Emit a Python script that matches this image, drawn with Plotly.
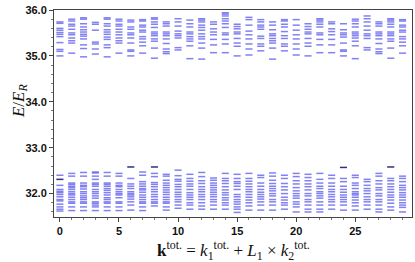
import plotly.graph_objects as go

k_values = list(range(30))

upper_levels = [
    [35.74, 35.71, 35.60, 35.56, 35.51, 35.47, 35.42, 35.29, 35.14, 35.10, 35.00],
    [35.80, 35.76, 35.69, 35.65, 35.58, 35.50, 35.46, 35.39, 35.33, 35.28, 35.06],
    [35.83, 35.80, 35.70, 35.63, 35.57, 35.52, 35.47, 35.43, 35.37, 35.24, 35.16, 34.98],
    [35.73, 35.69, 35.56, 35.30, 35.26, 35.15, 35.04],
    [35.83, 35.80, 35.70, 35.65, 35.57, 35.52, 35.47, 35.41, 35.36, 35.24, 35.18, 34.98],
    [35.80, 35.76, 35.69, 35.65, 35.58, 35.52, 35.46, 35.39, 35.33, 35.28, 35.06],
    [35.78, 35.74, 35.63, 35.58, 35.50, 35.46, 35.39, 35.28, 35.13, 35.10, 35.00],
    [35.79, 35.76, 35.67, 35.63, 35.56, 35.52, 35.42, 35.37, 35.30, 35.22, 35.06],
    [35.83, 35.80, 35.74, 35.69, 35.62, 35.52, 35.48, 35.44, 35.37, 35.32, 35.17, 34.95],
    [35.74, 35.70, 35.65, 35.52, 35.48, 35.44, 35.37, 35.27, 35.15, 35.09, 35.05],
    [35.81, 35.74, 35.65, 35.54, 35.48, 35.44, 35.39, 35.18, 35.13],
    [35.78, 35.70, 35.63, 35.52, 35.48, 35.42, 35.37, 35.32, 35.22, 34.94],
    [35.81, 35.78, 35.74, 35.67, 35.62, 35.56, 35.48, 35.42, 35.37, 35.28, 35.17, 34.93],
    [35.74, 35.69, 35.59, 35.52, 35.46, 35.36, 35.24, 35.07],
    [35.94, 35.91, 35.87, 35.81, 35.76, 35.70, 35.62, 35.50, 35.46, 35.36, 35.26, 35.07],
    [35.69, 35.64, 35.59, 35.52, 35.48, 35.38, 35.28, 35.21, 35.00],
    [35.84, 35.79, 35.67, 35.54, 35.46, 35.37, 35.26, 35.15, 35.02],
    [35.79, 35.74, 35.67, 35.63, 35.58, 35.43, 35.38, 35.26, 35.21, 35.11],
    [35.74, 35.67, 35.57, 35.48, 35.44, 35.38, 35.33, 35.28, 35.17, 34.93],
    [35.79, 35.76, 35.69, 35.63, 35.53, 35.44, 35.38, 35.26, 35.21, 35.11],
    [35.79, 35.67, 35.56, 35.46, 35.37, 35.26, 35.15, 35.02],
    [35.70, 35.64, 35.58, 35.52, 35.48, 35.38, 35.28, 35.21, 35.00],
    [35.81, 35.78, 35.74, 35.69, 35.63, 35.50, 35.46, 35.36, 35.24, 35.07],
    [35.74, 35.70, 35.59, 35.53, 35.46, 35.36, 35.24, 35.07],
    [35.70, 35.57, 35.50, 35.46, 35.41, 35.28, 35.13, 35.10, 35.00],
    [35.80, 35.76, 35.70, 35.63, 35.52, 35.48, 35.44, 35.39, 35.32, 35.22, 34.94],
    [35.87, 35.81, 35.74, 35.65, 35.56, 35.48, 35.44, 35.38, 35.18, 35.13],
    [35.74, 35.70, 35.65, 35.52, 35.48, 35.44, 35.37, 35.27, 35.15, 35.09, 35.05],
    [35.81, 35.78, 35.74, 35.69, 35.63, 35.52, 35.48, 35.44, 35.37, 35.32, 35.17, 34.95],
    [35.79, 35.76, 35.67, 35.63, 35.56, 35.52, 35.42, 35.37, 35.30, 35.22, 35.06],
]

lower_levels = [
    [32.40, 32.18, 32.09, 32.05, 32.02, 31.98, 31.93, 31.87, 31.84, 31.77, 31.71, 31.66, 31.62],
    [32.44, 32.38, 32.23, 32.20, 32.16, 32.13, 32.09, 32.04, 32.00, 31.97, 31.92, 31.87, 31.82, 31.79, 31.71, 31.63],
    [32.46, 32.38, 32.23, 32.18, 32.15, 32.10, 32.04, 32.00, 31.95, 31.91, 31.87, 31.82, 31.79, 31.71, 31.63],
    [32.47, 32.45, 32.38, 32.31, 32.23, 32.20, 32.16, 32.09, 32.04, 32.00, 31.95, 31.90, 31.82, 31.79, 31.75, 31.71, 31.63],
    [32.46, 32.38, 32.23, 32.20, 32.16, 32.11, 32.07, 32.02, 31.97, 31.91, 31.87, 31.82, 31.79, 31.71, 31.63],
    [32.44, 32.38, 32.23, 32.18, 32.15, 32.09, 32.04, 32.00, 31.97, 31.91, 31.82, 31.79, 31.71, 31.63],
    [32.33, 32.21, 32.16, 32.11, 32.04, 32.00, 31.97, 31.93, 31.88, 31.82, 31.75, 31.64],
    [32.47, 32.40, 32.26, 32.21, 32.16, 32.11, 32.08, 32.03, 31.97, 31.92, 31.87, 31.82, 31.79, 31.71, 31.63],
    [32.44, 32.37, 32.24, 32.20, 32.15, 32.09, 32.04, 31.98, 31.93, 31.87, 31.82, 31.79, 31.73],
    [32.42, 32.38, 32.29, 32.23, 32.18, 32.13, 32.08, 32.03, 31.98, 31.92, 31.87, 31.82, 31.79, 31.71, 31.64],
    [32.51, 32.39, 32.31, 32.27, 32.20, 32.15, 32.09, 32.03, 31.98, 31.93, 31.87, 31.82, 31.75, 31.68],
    [32.42, 32.33, 32.27, 32.21, 32.16, 32.09, 32.02, 31.97, 31.92, 31.87, 31.80, 31.75, 31.66],
    [32.46, 32.37, 32.28, 32.22, 32.15, 32.09, 32.04, 31.98, 31.93, 31.87, 31.80, 31.73, 31.66],
    [32.34, 32.29, 32.23, 32.18, 32.13, 32.08, 32.03, 31.98, 31.93, 31.87, 31.82, 31.75, 31.66],
    [32.44, 32.33, 32.28, 32.22, 32.15, 32.08, 32.02, 31.97, 31.91, 31.86, 31.80, 31.75, 31.66],
    [32.42, 32.33, 32.26, 32.22, 32.16, 32.09, 31.98, 31.93, 31.87, 31.82, 31.77, 31.71, 31.66, 31.59],
    [32.44, 32.33, 32.27, 32.21, 32.15, 32.09, 32.04, 31.98, 31.92, 31.86, 31.80, 31.73, 31.64],
    [32.40, 32.35, 32.23, 32.16, 32.09, 32.03, 31.98, 31.93, 31.88, 31.82, 31.75, 31.64],
    [32.45, 32.38, 32.29, 32.22, 32.16, 32.11, 32.06, 32.00, 31.95, 31.87, 31.82, 31.75, 31.64],
    [32.40, 32.33, 32.22, 32.15, 32.08, 32.00, 31.92, 31.86, 31.80, 31.75, 31.66],
    [32.44, 32.37, 32.28, 32.21, 32.13, 32.06, 32.00, 31.95, 31.90, 31.82, 31.77, 31.71, 31.60],
    [32.42, 32.35, 32.28, 32.21, 32.15, 32.08, 32.00, 31.95, 31.87, 31.82, 31.75, 31.66, 31.60],
    [32.44, 32.31, 32.23, 32.16, 32.11, 32.04, 32.00, 31.95, 31.90, 31.82, 31.75, 31.66, 31.60],
    [32.40, 32.33, 32.23, 32.16, 32.09, 32.04, 31.98, 31.93, 31.87, 31.82, 31.75, 31.66],
    [32.33, 32.26, 32.16, 32.09, 32.03, 31.97, 31.92, 31.87, 31.82, 31.75, 31.64],
    [32.40, 32.35, 32.23, 32.18, 32.11, 32.04, 32.00, 31.97, 31.92, 31.86, 31.80, 31.73, 31.64],
    [32.31, 32.26, 32.18, 32.11, 32.06, 32.00, 31.93, 31.87, 31.82, 31.75, 31.66],
    [32.44, 32.38, 32.28, 32.21, 32.13, 32.08, 32.00, 31.95, 31.87, 31.82, 31.75, 31.66, 31.60],
    [32.33, 32.28, 32.21, 32.15, 32.09, 32.03, 31.97, 31.92, 31.86, 31.79, 31.71, 31.64],
    [32.38, 32.33, 32.26, 32.18, 32.13, 32.08, 32.02, 31.97, 31.92, 31.86, 31.80, 31.75, 31.70, 31.60],
]

# levels drawn in dark blue / near-black
dark_k = [0, 6, 24, 28, 8]
dark_e = [32.31, 32.58, 32.57, 32.58, 32.58]

x_tick_vals = [0, 5, 10, 15, 20, 25]
y_tick_vals = [32, 33, 34, 35, 36]

HALF = 0.3


def segments(ks, es_lists):
    xs, ys = [], []
    for k, es in zip(ks, es_lists):
        for e in es:
            xs += [k - HALF, k + HALF, None]
            ys += [e, e, None]
    return xs, ys


ux, uy = segments(k_values, upper_levels)
lx, ly = segments(k_values, lower_levels)
dx, dy = segments(dark_k, [[e] for e in dark_e])

fig = go.Figure()
line_style = dict(color="rgba(75,75,235,0.7)", width=1.5)
fig.add_trace(go.Scatter(x=ux, y=uy, mode="lines", line=line_style, hoverinfo="skip", showlegend=False))
fig.add_trace(go.Scatter(x=lx, y=ly, mode="lines", line=line_style, hoverinfo="skip", showlegend=False))
fig.add_trace(go.Scatter(x=dx, y=dy, mode="lines", line=dict(color="rgba(25,25,110,0.9)", width=1.5),
                         hoverinfo="skip", showlegend=False))

tick_font = dict(family="Liberation Sans", size=11, color="#111")

L, R, T, B = 54, 3, 10, 45
fig.update_layout(
    width=415, height=262,
    margin=dict(l=L, r=R, t=T, b=B, autoexpand=False),
    plot_bgcolor="white", paper_bgcolor="white",
    xaxis=dict(
        range=[-0.5, 29.8], tickmode="array", tickvals=x_tick_vals,
        ticktext=[f"<b>{v}</b>" for v in x_tick_vals],
        showgrid=False, zeroline=False, showline=True, linecolor="#444", linewidth=1, mirror=True,
        ticks="outside", ticklen=4, tickcolor="#444",
        minor=dict(dtick=1, ticks="outside", ticklen=2, tickcolor="#777"),
        tickfont=tick_font, automargin=False,
    ),
    yaxis=dict(
        range=[31.49, 36.0], tickmode="array", tickvals=y_tick_vals,
        ticktext=[f"<b>{v:.1f}</b>" for v in y_tick_vals],
        showgrid=False, zeroline=False, showline=True, linecolor="#444", linewidth=1, mirror=True,
        ticks="outside", ticklen=4, tickcolor="#444",
        minor=dict(dtick=0.2, ticks="outside", ticklen=2, tickcolor="#777"),
        tickfont=tick_font, automargin=False,
    ),
)

plot_h = 262 - T - B
plot_w = 415 - L - R
fig.add_annotation(
    text="<b>k</b><sup>tot.</sup> = <i>k</i><sub>1</sub><sup>tot.</sup> + <i>L</i><sub>1</sub> × <i>k</i><sub>2</sub><sup>tot.</sup>",
    xref="paper", yref="paper", x=0.5, y=-33 / plot_h, xanchor="center", yanchor="middle",
    showarrow=False, font=dict(family="Liberation Serif", size=17, color="#111"),
)
fig.add_annotation(
    text="<i>E</i>/<i>E<sub>R</sub></i>",
    xref="paper", yref="paper", x=-34 / plot_w, y=0.56, xanchor="center", yanchor="middle",
    textangle=-90, showarrow=False, font=dict(family="Liberation Serif", size=17, color="#111"),
)

fig.write_html("out.html", config={"displayModeBar": False},
               post_script="document.body.style.margin='0';document.body.style.overflow='hidden';")
